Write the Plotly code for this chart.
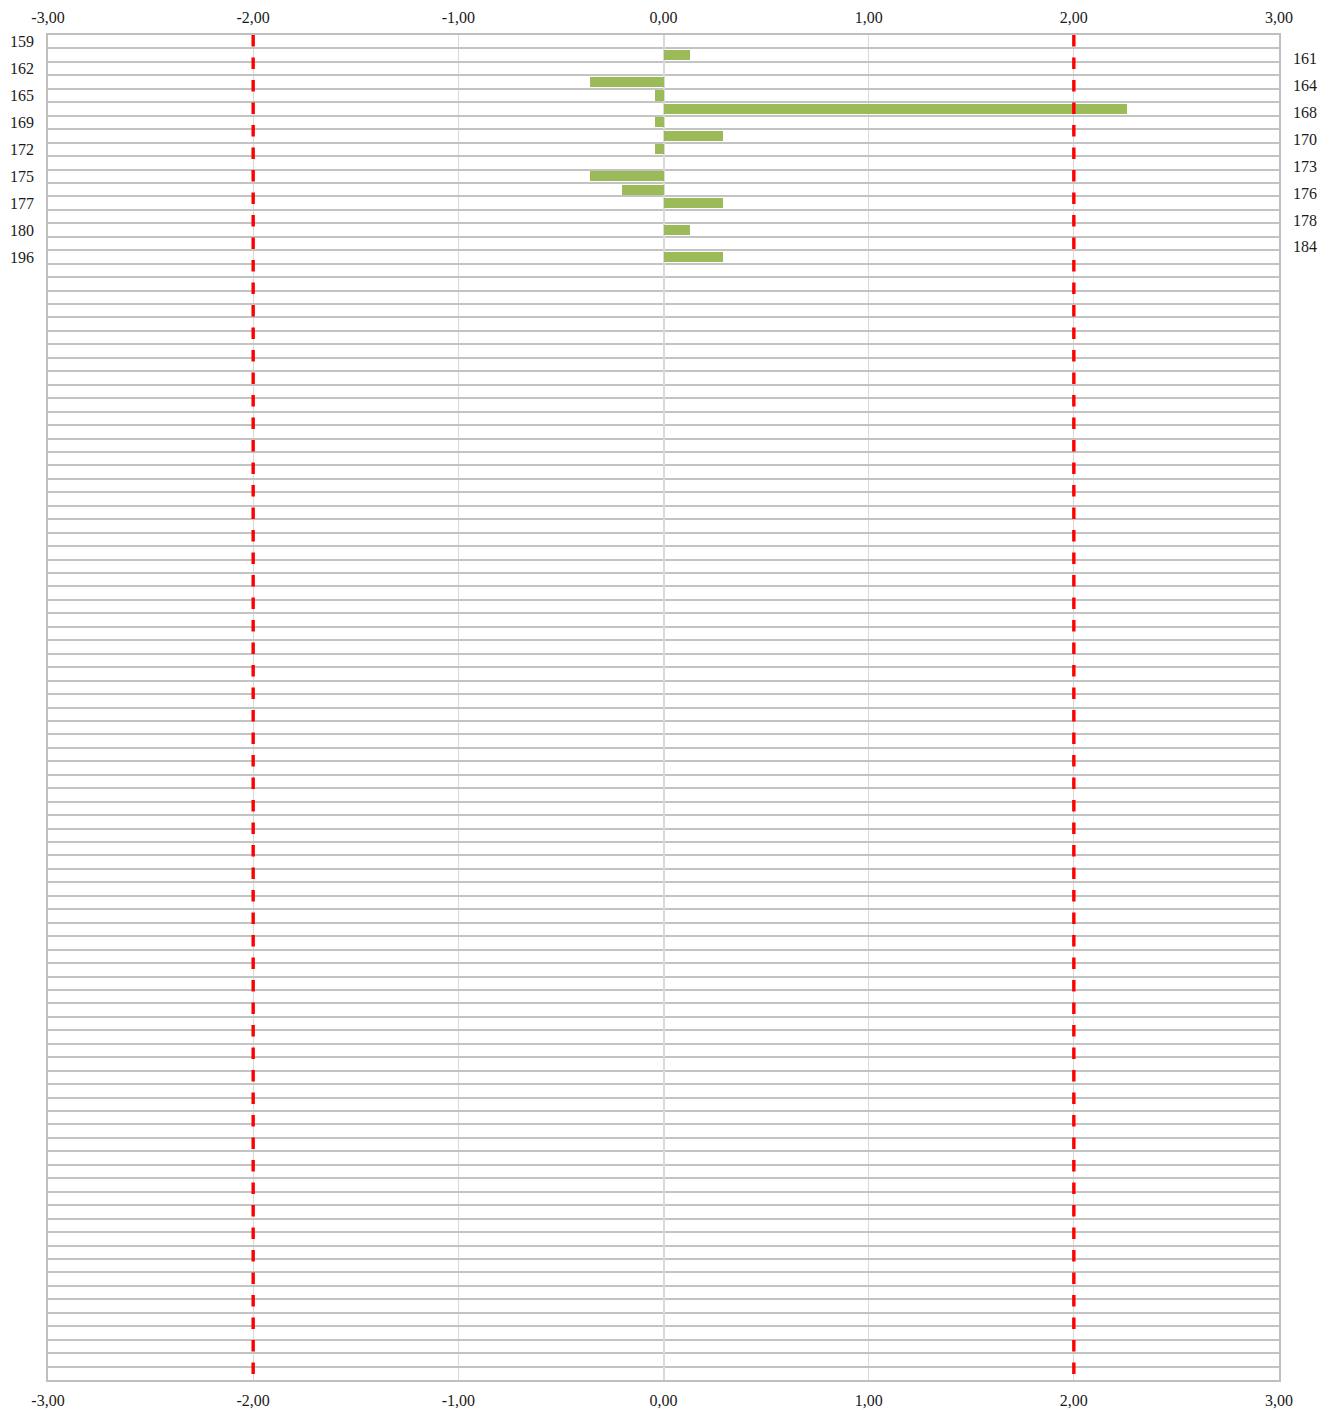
import plotly.graph_objects as go

# ---- data ----
categories = ["159", "161", "162", "164", "165", "168", "169", "170", "172",
              "173", "175", "176", "177", "178", "180", "184", "196"]
values = [0.0, 0.13, 0.0, -0.36, -0.04, 2.26, -0.04, 0.29, -0.04,
          0.0, -0.36, -0.20, 0.29, 0.0, 0.13, 0.0, 0.29]
n_slots = 100                      # category slots on the axis (rest are empty)
thresholds = [-2.0, 2.0]
x_ticks = [-3, -2, -1, 0, 1, 2, 3]
x_ticktext = [f"{v:.2f}".replace(".", ",") for v in x_ticks]

FONT = "Liberation Serif"
TXT = "#1a1a1a"
GRID_H = "#c3c3c3"
GRID_V = "#d9d9d9"
BORDER = "#bfbfbf"

rows = list(range(len(categories)))
left_idx = [i for i in rows if i % 2 == 0]
right_idx = [i for i in rows if i % 2 == 1]

fig = go.Figure()

fig.add_trace(go.Bar(
    x=values, y=rows, orientation="h",
    marker=dict(color="#9bbb59", line=dict(width=0)),
    width=0.75, xaxis="x", yaxis="y", showlegend=False,
))

for t in thresholds:
    fig.add_trace(go.Scatter(
        x=[t, t], y=[-0.5, n_slots - 0.5], mode="lines",
        line=dict(color="#ff0000", width=3.4, dash="11.5px,11px"),
        xaxis="x", yaxis="y", showlegend=False, hoverinfo="skip",
    ))

# invisible helper traces so the label axes are drawn
fig.add_trace(go.Scatter(
    x=[0] * len(left_idx), y=left_idx, mode="markers",
    marker=dict(opacity=0), xaxis="x", yaxis="y2",
    showlegend=False, hoverinfo="skip",
))
fig.add_trace(go.Scatter(
    x=[0] * len(right_idx), y=right_idx, mode="markers",
    marker=dict(opacity=0), xaxis="x2", yaxis="y3",
    showlegend=False, hoverinfo="skip",
))

y_range = [n_slots - 0.5, -0.5]
y_range_right = [n_slots - 0.75, -0.75]
boundaries = [i - 0.5 for i in range(n_slots + 1)]

fig.update_layout(
    width=1332, height=1410, autosize=False,
    margin=dict(l=48, r=53, t=35, b=30, autoexpand=False),
    paper_bgcolor="white", plot_bgcolor="white",
    font=dict(family=FONT, size=16, color=TXT),
    bargap=0,
    xaxis=dict(
        range=[-3, 3], tickvals=x_ticks, ticktext=x_ticktext,
        showgrid=True, gridcolor=GRID_V, gridwidth=1,
        zeroline=True, zerolinecolor=GRID_V, zerolinewidth=2,
        showline=True, mirror=True, linecolor=BORDER, linewidth=2,
        ticks="", ticklabelstandoff=5, side="bottom", automargin=False,
    ),
    xaxis2=dict(
        range=[-3, 3], tickvals=x_ticks, ticktext=x_ticktext,
        overlaying="x", side="top", showgrid=False, zeroline=False,
        showline=False, ticks="", ticklabelstandoff=8, automargin=False,
    ),
    yaxis=dict(
        range=y_range, tickvals=boundaries, showticklabels=False,
        showgrid=True, gridcolor=GRID_H, gridwidth=2, zeroline=False,
        showline=True, mirror=True, linecolor=BORDER, linewidth=2,
        ticks="", automargin=False,
    ),
    yaxis2=dict(
        range=y_range, overlaying="y", side="left",
        tickvals=left_idx, ticktext=[categories[i] for i in left_idx],
        showgrid=False, zeroline=False, showline=False, ticks="",
        ticklabelstandoff=13, automargin=False,
    ),
    yaxis3=dict(
        range=y_range_right, overlaying="y", side="right",
        tickvals=right_idx, ticktext=[categories[i] for i in right_idx],
        showgrid=False, zeroline=False, showline=False, ticks="",
        ticklabelstandoff=13, automargin=False,
    ),
)

fig.write_html("out.html", config={"displayModeBar": False},
               post_script="document.body.style.margin='0';")
